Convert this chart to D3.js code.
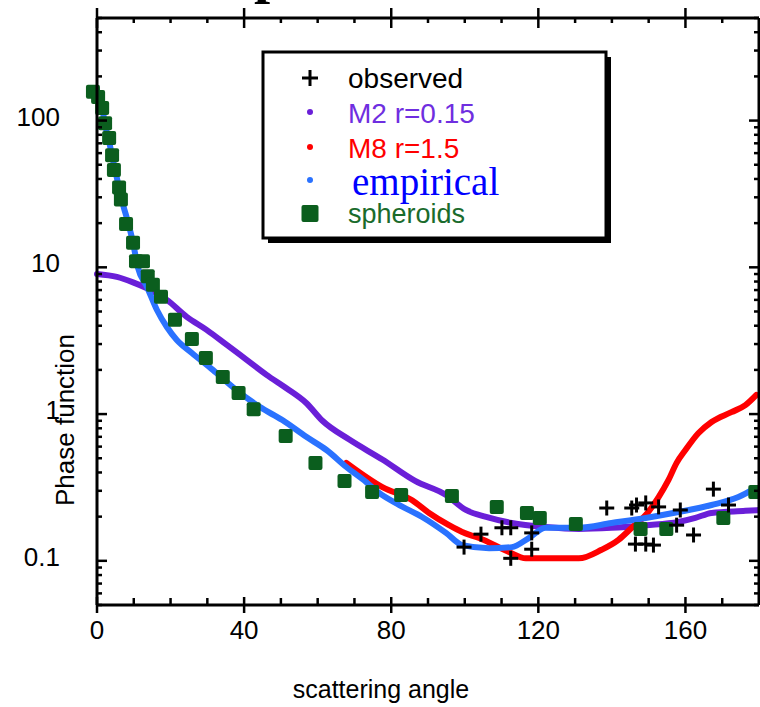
<!DOCTYPE html>
<html><head><meta charset="utf-8">
<script src="https://cdn.jsdelivr.net/npm/d3@7"></script>
<style>body{margin:0;background:#fff}svg{display:block}</style>
</head><body>
<svg id="c" width="760" height="707"></svg>
<script>
// ---------- data ----------
const xTickValues = [0, 40, 80, 120, 160];
const xTickLabels = ["0", "40", "80", "120", "160"];
const yTickValues = [0.1, 1, 10, 100];
const yTickLabels = ["0.1", "1", "10", "100"];

const m2Angle = [0,5.4,9.8,13.6,19,24.4,29.8,35.3,40.7,46.1,51.5,56.9,61.3,68.6,77.6,86.5,94.9,100.3,105.8,112.8,122,131,139.9,149.2,158.1,162.7,167.1,176.3,180];
const m2Value = [9.0,8.6,7.9,7.2,6.0,4.6,3.75,2.96,2.34,1.85,1.5,1.19,0.9,0.67,0.49,0.35,0.281,0.222,0.199,0.181,0.170,0.165,0.168,0.175,0.184,0.196,0.212,0.219,0.222];

const m8Angle = [67.8,77.6,85.7,90.3,95.7,99.3,103.9,112,116.6,131,137.2,141.8,145.4,149.2,152.7,155.4,157.6,160,163.5,167.1,172.5,176.3,179.3];
const m8Value = [0.465,0.318,0.259,0.212,0.175,0.157,0.143,0.115,0.104,0.104,0.119,0.139,0.168,0.205,0.272,0.356,0.465,0.569,0.74,0.883,1.03,1.15,1.35];

const empAngle = [0,0.8,1.6,2.4,3.5,4.6,5.7,7.1,8.4,9.8,11.1,13.6,16.3,19,21.7,25.8,31.5,36.9,44.2,50.4,56.9,62.4,67.8,73.2,76.7,82.2,88.4,94.9,99.3,106.6,112.8,117.4,122,131,139.9,149.2,158.1,167.1,174.4,179];
const empValue = [161,138,114,89,68,50,37.6,26.6,20.4,14.7,10.0,7.35,5.12,3.92,3.2,2.61,2.0,1.53,1.12,0.91,0.70,0.569,0.436,0.344,0.290,0.240,0.199,0.155,0.128,0.122,0.124,0.143,0.168,0.168,0.181,0.196,0.215,0.240,0.272,0.313];

const sphAngle = [-1.1,0.3,1.4,2.2,3.3,4.1,4.6,6.0,6.5,7.9,9.8,10.6,12.5,13.8,15.2,17.4,21.2,25.8,29.6,34.2,38.5,42.6,51.3,59.4,67.3,74.8,82.7,96.5,108.7,116.9,120.4,130.2,147.8,154.8,170.3,179];
const sphValue = [157,145,122,96,76,58,46,35,29,19.7,14.7,11.0,11.0,8.7,7.6,6.3,4.4,3.25,2.41,1.79,1.39,1.08,0.71,0.465,0.35,0.294,0.281,0.277,0.233,0.212,0.196,0.178,0.165,0.165,0.196,0.294];

const obsAngle = [99.8,104.4,110.1,112.5,112.5,118.2,118.2,138.6,145.4,146.7,149.2,152.7,158.6,157.6,162.2,167.6,171.7,146.4,149.2,151.3];
const obsValue = [0.124,0.152,0.168,0.168,0.104,0.155,0.120,0.229,0.229,0.240,0.248,0.233,0.222,0.175,0.150,0.308,0.240,0.130,0.130,0.128];

const legendLabels = ["observed", "M2 r=0.15", "M8 r=1.5", "empirical", "spheroids"];

// ---------- drawing ----------
const svg = d3.select("#c");
const x = d3.scaleLinear().domain([0, 180]).range([97, 759]);
const y = d3.scaleLog().domain([0.05, 500]).range([605, 18]);

const C = {m2:"#6a1fd8", m8:"#ff0000", emp:"#2a72ff", sph:"#0b5e1e"};
const SANS = "'Liberation Sans', Arial, sans-serif";
const SERIF = "'Liberation Serif', 'Times New Roman', serif";

// partial title (cut off at top)
svg.append("text").attr("x", 254).attr("y", -8)
  .attr("font-family", SERIF).attr("font-weight", "bold").attr("font-size", 58)
  .text("p");

const zip = (a, b) => a.map((v, i) => [v, b[i]]);
const line = d3.line().x(d => x(d[0])).y(d => y(d[1])).curve(d3.curveMonotoneX);

function drawLine(a, v, col) {
  svg.append("path").datum(zip(a, v)).attr("d", line)
    .attr("fill", "none").attr("stroke", col).attr("stroke-width", 6)
    .attr("stroke-linecap", "round").attr("stroke-linejoin", "round");
}
drawLine(m2Angle, m2Value, C.m2);
drawLine(m8Angle, m8Value, C.m8);
drawLine(empAngle, empValue, C.emp);

// spheroid squares
svg.append("g").selectAll("rect").data(zip(sphAngle, sphValue)).join("rect")
  .attr("x", d => x(d[0]) - 7).attr("y", d => y(d[1]) - 7)
  .attr("width", 14).attr("height", 14).attr("rx", 2)
  .attr("fill", C.sph);

// observed crosses
const cross = svg.append("g").attr("stroke", "#000").attr("stroke-width", 3);
zip(obsAngle, obsValue).forEach(d => {
  const cx = x(d[0]), cy = y(d[1]);
  cross.append("line").attr("x1", cx - 7.5).attr("x2", cx + 7.5).attr("y1", cy).attr("y2", cy);
  cross.append("line").attr("x1", cx).attr("x2", cx).attr("y1", cy - 7.5).attr("y2", cy + 7.5);
});

// axes frame
const ax = svg.append("g").attr("stroke", "#000").attr("stroke-width", 3).attr("fill", "none");
const [x0, x1] = x.range(), [yb, yt] = y.range();
ax.append("line").attr("x1", x0).attr("x2", x1).attr("y1", yt).attr("y2", yt);
ax.append("line").attr("x1", x0).attr("x2", x1).attr("y1", yb).attr("y2", yb);
ax.append("line").attr("x1", x0).attr("x2", x0).attr("y1", yt).attr("y2", yb);
ax.append("line").attr("x1", x1).attr("x2", x1).attr("y1", yt).attr("y2", yb);

// x ticks
const tk = svg.append("g").attr("stroke", "#000").attr("stroke-width", 2.5);
d3.range(0, 181, 10).forEach(v => {
  const px = x(v);
  if (xTickValues.includes(v)) {
    tk.append("line").attr("x1", px).attr("x2", px).attr("y1", yt - 10).attr("y2", yt + 10);
    tk.append("line").attr("x1", px).attr("x2", px).attr("y1", yb - 8).attr("y2", yb + 8);
  } else if (v > 0 && v < 180) {
    tk.append("line").attr("x1", px).attr("x2", px).attr("y1", yt).attr("y2", yt + 5);
    tk.append("line").attr("x1", px).attr("x2", px).attr("y1", yb - 7).attr("y2", yb);
  }
});
// y ticks
y.ticks().forEach(v => {
  const py = y(v);
  if (py < yt || py > yb) return;
  const major = yTickValues.some(t => Math.abs(t - v) < 1e-9);
  const len = major ? 10 : 5;
  tk.append("line").attr("x1", x0).attr("x2", x0 + len).attr("y1", py).attr("y2", py);
  tk.append("line").attr("x1", x1 - len).attr("x2", x1).attr("y1", py).attr("y2", py);
});

// tick labels
svg.append("g").attr("font-family", SANS).attr("font-size", 26).attr("text-anchor", "middle")
  .selectAll("text").data(xTickValues).join("text")
  .attr("x", d => x(d)).attr("y", 639).text((d, i) => xTickLabels[i]);
svg.append("g").attr("font-family", SANS).attr("font-size", 26).attr("text-anchor", "end")
  .selectAll("text").data(yTickValues).join("text")
  .attr("x", 60).attr("y", d => y(d) + 5).text((d, i) => yTickLabels[i]);

// axis titles
svg.append("text").attr("x", 381).attr("y", 698).attr("text-anchor", "middle")
  .attr("font-family", SANS).attr("font-size", 25).text("scattering angle");
svg.append("text").attr("transform", "translate(74,420) rotate(-90)").attr("text-anchor", "middle")
  .attr("font-family", SANS).attr("font-size", 26).text("Phase function");

// legend
const lg = svg.append("g");
lg.append("rect").attr("x", 268).attr("y", 57).attr("width", 343).attr("height", 186).attr("fill", "#000");
lg.append("rect").attr("x", 263).attr("y", 52).attr("width", 343).attr("height", 186)
  .attr("fill", "#fff").attr("stroke", "#000").attr("stroke-width", 3);
const mx = 310;
lg.append("line").attr("x1", mx - 8).attr("x2", mx + 8).attr("y1", 78).attr("y2", 78).attr("stroke", "#000").attr("stroke-width", 3);
lg.append("line").attr("x1", mx).attr("x2", mx).attr("y1", 70).attr("y2", 86).attr("stroke", "#000").attr("stroke-width", 3);
lg.append("circle").attr("cx", mx).attr("cy", 112).attr("r", 3).attr("fill", C.m2);
lg.append("circle").attr("cx", mx).attr("cy", 147).attr("r", 3).attr("fill", C.m8);
lg.append("circle").attr("cx", mx).attr("cy", 180).attr("r", 3).attr("fill", C.emp);
lg.append("rect").attr("x", mx - 8.5).attr("y", 205).attr("width", 17).attr("height", 17).attr("rx", 2).attr("fill", C.sph);

const legText = [
  {y: 88, col: "#000", font: SANS, size: 28},
  {y: 123, col: "#6f2ee0", font: SANS, size: 28},
  {y: 158, col: "#ff0000", font: SANS, size: 28},
  {y: 195, col: "#0000ff", font: SERIF, size: 39},
  {y: 223, col: "#1a6b2c", font: SANS, size: 27}
];
lg.selectAll("text.l").data(legendLabels).join("text").attr("class", "l")
  .attr("x", (d, i) => i === 3 ? 352 : 348).attr("y", (d, i) => legText[i].y)
  .attr("fill", (d, i) => legText[i].col).attr("font-family", (d, i) => legText[i].font)
  .attr("font-size", (d, i) => legText[i].size).text(d => d);
</script>
</body></html>
